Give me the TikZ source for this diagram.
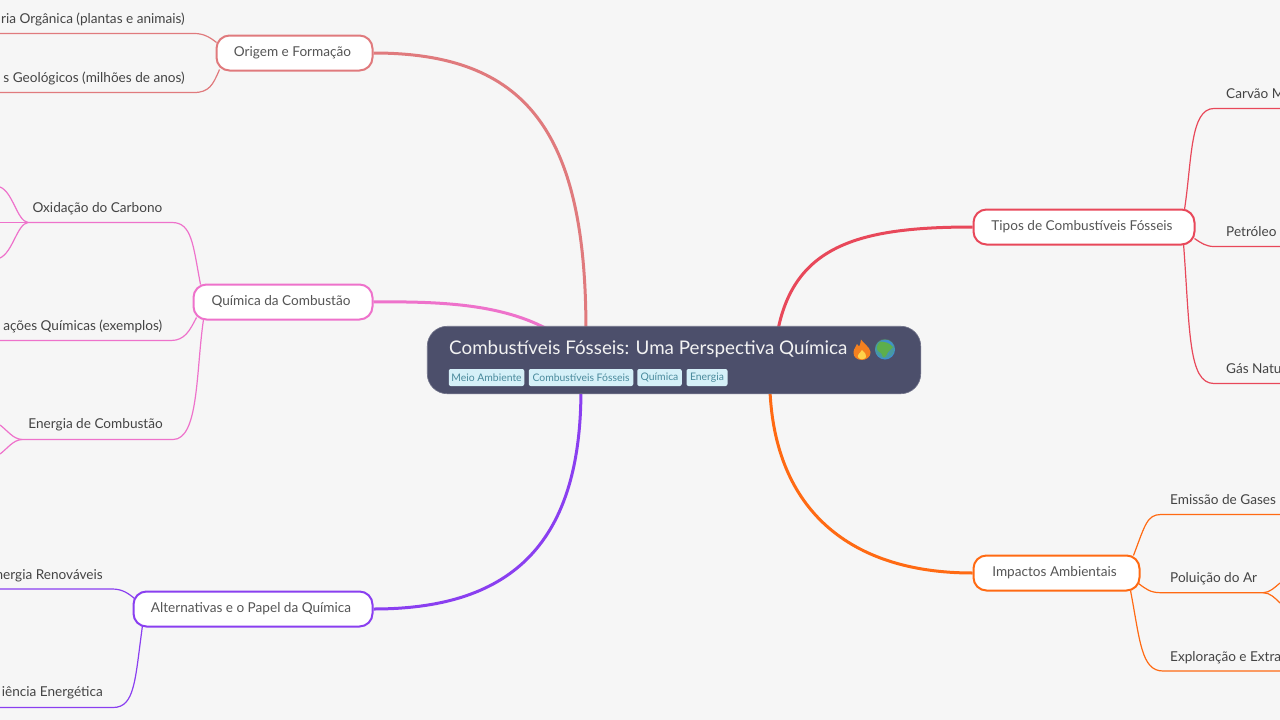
\documentclass[tikz,border=0pt]{standalone}
\usepackage{fontspec}
\usetikzlibrary{backgrounds,calc}
\setmainfont{Lato}
\newfontfamily\emojifont{Noto Emoji}
\definecolor{bgc}{HTML}{F6F6F6}
\definecolor{rootc}{HTML}{4C4F6B}
\definecolor{tagc}{HTML}{D5F0F8}
\definecolor{tagt}{HTML}{4A8A9C}
\definecolor{txt}{HTML}{444444}
\definecolor{txtb}{HTML}{555555}
\definecolor{cOrig}{HTML}{E07A7D}
\definecolor{cQuim}{HTML}{EE72CB}
\definecolor{cAlt}{HTML}{8A3FF0}
\definecolor{cTip}{HTML}{E8485A}
\definecolor{cImp}{HTML}{FF6A13}
\definecolor{flameo}{HTML}{F4801F}
\definecolor{flamey}{HTML}{FFD24A}
\definecolor{seac}{HTML}{3E8FD0}
\definecolor{landc}{HTML}{5DAE4B}
\tikzset{
  x=1pt,y=-1pt,
  rootbox/.style={draw=rootc!80!white,line width=.6pt,fill=rootc,rounded corners=20pt,minimum width=493.5pt,minimum height=67.5pt,inner sep=0pt},
  branch/.style={draw=#1,line width=2pt,fill=white,rounded corners=13pt,minimum height=35pt,inner sep=0pt,text=txtb,font=\fontsize{13.6}{16}\selectfont,text height=10.7pt,text depth=3pt,execute at begin node=\hspace*{-4pt}},
  trunk/.style={draw=#1,line width=3pt},
  twig/.style={draw=#1,line width=1.2pt},
  leaf/.style={inner sep=0pt,text=txt,font=\fontsize{13.6}{16}\selectfont},
  tag/.style={fill=tagc,rounded corners=2pt,inner sep=0pt,minimum height=17pt,text=tagt,font=\fontsize{10.4}{12}\selectfont},
}
\begin{document}
\begin{tikzpicture}
\useasboundingbox (0,0) rectangle (1280,720);
\clip (0,0) rectangle (1280,720);

% root
\node[rootbox] (root) at (674,360) {};
\node[anchor=west,inner sep=0pt,text=white!95!black,font=\fontsize{18.8}{22}\selectfont] (title) at (449,349) {Combustíveis Fósseis: Uma Perspectiva Química};
\fill[flameo] (861,339.5) .. controls (863,343) and (870,347) .. (870.5,352) .. controls (871,357) and (866,360) .. (862,360) .. controls (857,360) and (853,357) .. (853.5,352) .. controls (854,348) and (856,347) .. (857,344) .. controls (858,346) and (859,346) .. (859.5,346) .. controls (860,344) and (861,342) .. (861,339.5) -- cycle;
\fill[flamey] (862,350) .. controls (865,353) and (867,355) .. (866,357) .. controls (865,360) and (859,360) .. (858,357) .. controls (857,355) and (860,353) .. (862,350) -- cycle;
\fill[seac] (885,349.5) circle (10pt);
\fill[landc] (880,342) .. controls (884,341) and (890,343) .. (893,347) .. controls (892,349) and (889,350) .. (888,352) .. controls (887,355) and (885,358) .. (883,357) .. controls (882,354) and (881,352) .. (878,351) .. controls (876,349) and (877,344) .. (880,342) -- cycle;
\node[inner sep=0pt,text=rootc!0!landc,opacity=.35,font=\emojifont\fontsize{19}{22}\selectfont] (globe) at (885,349.5) {🌍};
\node[tag,minimum width=75.5pt] (ta) at (486.5,377.5) {Meio Ambiente};
\node[tag,minimum width=104.5pt] (tb) at (581,377.5) {Combustíveis Fósseis};
\node[tag,minimum width=44.5pt] (tc) at (659.5,377.5) {Química};
\node[tag,minimum width=41pt] (td) at (707,377.5) {Energia};

% branch nodes
\node[branch=cOrig,minimum width=156pt] (orig) at (294.5,53) {Origem e Formação};
\node[branch=cQuim,minimum width=179pt] (quim) at (283,302) {Química da Combustão};
\node[branch=cAlt,minimum width=239pt] (alt) at (253,609) {Alternativas e o Papel da Química};
\node[branch=cTip,minimum width=221pt] (tip) at (1084,227) {Tipos de Combustíveis Fósseis};
\node[branch=cImp,minimum width=166pt] (imp) at (1056.5,573) {Impactos Ambientais};

% leaves
\node[leaf,anchor=east] (n1) at (185,19) {ria Orgânica (plantas e animais)};
\node[leaf,anchor=east] (n2) at (185,78) {s Geológicos (milhões de anos)};
\node[leaf,anchor=east] (n3) at (162.5,209) {Oxidação do Carbono};
\node[leaf,anchor=east] (n4) at (162.5,326) {ações Químicas (exemplos)};
\node[leaf,anchor=east] (n5) at (163,425) {Energia de Combustão};
\node[leaf,anchor=east] (n6) at (103,576) {nergia Renováveis};
\node[leaf,anchor=east] (n7) at (103,693) {iência Energética};
\node[leaf,anchor=west] (n8) at (1226,94) {Carvão M};
\node[leaf,anchor=west] (n9) at (1226,232) {Petróleo};
\node[leaf,anchor=west] (n10) at (1226,369) {Gás Natu};
\node[leaf,anchor=west] (n11) at (1170,500) {Emissão de Gases};
\node[leaf,anchor=west] (n12) at (1170,579) {Poluição do Ar};
\node[leaf,anchor=west] (n13) at (1170,658) {Exploração e Extra};

% points on the root outline
\coordinate (rOrig) at ($(root.north west)+(159,4)$);
\coordinate (rQuim) at ($(root.north west)+(122,4)$);
\coordinate (rAlt) at ($(root.south west)+(154,-4)$);
\coordinate (rTip) at ($(root.north west)+(351,4)$);
\coordinate (rImp) at ($(root.south west)+(343,-4)$);

% free ends and forks
\coordinate (o1) at (0,33.5); \coordinate (o2) at (0,92.5);
\coordinate (q1) at (28,222.5); \coordinate (q1a) at (0,187); \coordinate (q1b) at (0,258); \coordinate (q1c) at (0,222.5);
\coordinate (q2) at (0,340.5);
\coordinate (q3) at (22,439.5); \coordinate (q3a) at (0,425); \coordinate (q3b) at (0,454);
\coordinate (a1) at (0,589); \coordinate (a2) at (0,707.5);
\coordinate (t1) at (1280,108.5); \coordinate (t2) at (1280,246.5); \coordinate (t3) at (1280,383.5);
\coordinate (i1) at (1280,514.5); \coordinate (i2) at (1263,592.7); \coordinate (i2a) at (1280,583); \coordinate (i2b) at (1280,603); \coordinate (i3) at (1280,671);

\begin{scope}[on background layer]
\fill[bgc] (0,0) rectangle (1280,720);
% trunks
\draw[trunk=cOrig] (orig.east) .. controls (525,53) and (586,130) .. (rOrig);
\draw[trunk=cQuim] (quim.east) .. controls (450,301) and (505,306) .. (rQuim);
\draw[trunk=cAlt] (alt.east) .. controls (505,609) and (581,550) .. (rAlt);
\draw[trunk=cTip] (tip.west) .. controls (860,227) and (795,245) .. (rTip);
\draw[trunk=cImp] (imp.west) .. controls (850,573) and (775,510) .. (rImp);
% twigs
\draw[twig=cOrig] ($(orig.north west)+(1,8)$) .. controls (209,36.5) and (203,33.5) .. (194,33.5) -- (o1);
\draw[twig=cOrig] ($(orig.south west)+(4,-2)$) .. controls (213,85) and (209,92.5) .. (194,92.5) -- (o2);
\draw[twig=cQuim] ($(quim.north west)+(8,1)$) .. controls (193,245) and (192,222.5) .. (172,222.5) -- (q1);
\draw[twig=cQuim] (q1) -- (q1c);
\draw[twig=cQuim] (q1) .. controls (17,221) and (13,192) .. (q1a);
\draw[twig=cQuim] (q1) .. controls (17,224) and (13,252) .. (q1b);
\draw[twig=cQuim] ($(quim.south west)+(4,-3)$) .. controls (190,330) and (185,340.5) .. (171,340.5) -- (q2);
\draw[twig=cQuim] ($(quim.south west)+(11,-1)$) .. controls (196,370) and (199,439.5) .. (173,439.5) -- (q3);
\draw[twig=cQuim] (q3) .. controls (13,439) and (8,431) .. (q3a);
\draw[twig=cQuim] (q3) .. controls (13,440) and (8,448) .. (q3b);
\draw[twig=cAlt] ($(alt.north west)+(2,8)$) .. controls (128,593) and (122,589) .. (112,589) -- (a1);
\draw[twig=cAlt] ($(alt.south west)+(10,-2)$) .. controls (135,680) and (135,707.5) .. (113,707.5) -- (a2);
\draw[twig=cTip] ($(tip.north east)+(-11,1)$) .. controls (1192,160) and (1190,108.5) .. (1214,108.5) -- (t1);
\draw[twig=cTip] ($(tip.south east)+(-1,-7)$) .. controls (1201,243) and (1206,246.5) .. (1214,246.5) -- (t2);
\draw[twig=cTip] ($(tip.south east)+(-12,-2)$) .. controls (1190,330) and (1188,383.5) .. (1214,383.5) -- (t3);
\draw[twig=cImp] ($(imp.north east)+(-7,1)$) .. controls (1145,525) and (1147,514.5) .. (1161,514.5) -- (i1);
\draw[twig=cImp] ($(imp.south east)+(-2,-8)$) .. controls (1146,589) and (1150,592.7) .. (1161,592.7) -- (i2);
\draw[twig=cImp] (i2) .. controls (1270,592.7) and (1275,587) .. (i2a);
\draw[twig=cImp] (i2) .. controls (1270,592.7) and (1275,598) .. (i2b);
\draw[twig=cImp] ($(imp.south east)+(-10,-1)$) .. controls (1140,640) and (1141,671) .. (1163,671) -- (i3);
\end{scope}
\end{tikzpicture}
\end{document}
